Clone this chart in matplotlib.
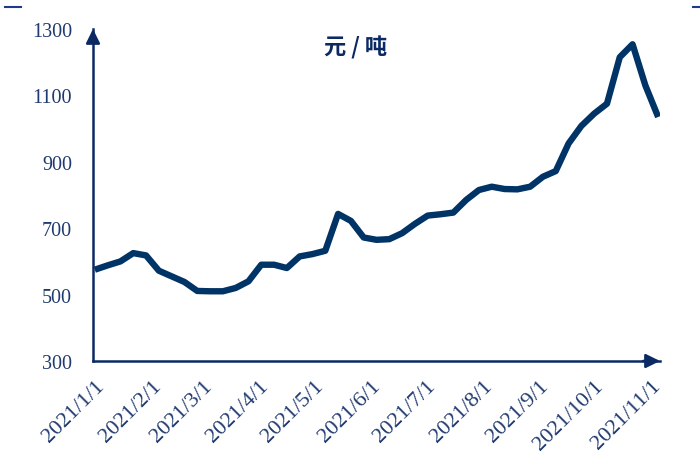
import matplotlib
matplotlib.use("Agg")
import matplotlib.pyplot as plt
from matplotlib.lines import Line2D
import pandas as pd

# ---- data ----
dates = pd.date_range("2021-01-01", periods=45, freq="7D")
prices = [575, 588, 600, 625, 618, 572, 555, 538, 511, 510,
          510, 520, 540, 590, 590, 580, 615, 622, 632, 743,
          722, 672, 665, 667, 685, 713, 738, 742, 747, 785,
          815, 825, 818, 817, 825, 855, 872, 955, 1008, 1045,
          1075, 1215, 1254, 1130, 1035]
tick_dates = pd.date_range("2021-01-01", periods=11, freq="MS")
tick_labels = [f"{d.year}/{d.month}/{d.day}" for d in tick_dates]
yticks = [300, 500, 700, 900, 1100, 1300]
unit = "元 / 吨"

navy = "#0b2a63"
line_c = "#003366"
label_c = "#1f3a6e"

fig = plt.figure(figsize=(7, 4.56), dpi=100)
ax = fig.add_axes([93/700, 1-362/456, (660-93)/700, (362-30)/456])

ax.plot(dates, prices, color=line_c, lw=4.6, solid_joinstyle="round", solid_capstyle="butt", zorder=3)

ax.set_ylim(300, 1300)
ax.set_xlim(pd.Timestamp("2020-12-31"), pd.Timestamp("2021-11-06"))
ax.set_yticks(yticks)
ax.set_yticklabels([str(v) for v in yticks], fontfamily="Liberation Serif", fontsize=14.5, color=label_c)
ax.set_xticks(tick_dates)
ax.set_xticklabels(tick_labels, fontfamily="Liberation Serif", fontsize=16, color=label_c,
                   rotation=45, ha="right", rotation_mode="anchor")
ax.tick_params(axis="y", length=0, pad=15)
ax.tick_params(axis="x", length=0, pad=11)

for s in ["top", "right"]:
    ax.spines[s].set_visible(False)
for s in ["left", "bottom"]:
    ax.spines[s].set_color(navy)
    ax.spines[s].set_linewidth(1.8)

# arrow heads
ax.annotate("", xy=(0, 1.0), xycoords="axes fraction", xytext=(0, 0.96),
            arrowprops=dict(arrowstyle="-|>,head_length=0.85,head_width=0.42", color=navy, lw=1.8,
                            shrinkA=0, shrinkB=0))
ax.annotate("", xy=(1.0, 0), xycoords="axes fraction", xytext=(0.97, 0),
            arrowprops=dict(arrowstyle="-|>,head_length=0.85,head_width=0.42", color=navy, lw=1.8,
                            shrinkA=0, shrinkB=0))

fig.text(356/700, 1-48/456, unit, ha="center", va="center", fontsize=16, fontweight="bold",
         color=navy, fontfamily=["Noto Sans CJK SC", "DejaVu Sans"])

# small corner marks
fig.add_artist(Line2D([5/700, 21/700], [1-8/456, 1-8/456], color="#1f3a8a", lw=1.5))
fig.add_artist(Line2D([693/700, 700/700], [1-8/456, 1-8/456], color="#1f3a8a", lw=1.5))

fig.savefig("out.png", dpi=100)
